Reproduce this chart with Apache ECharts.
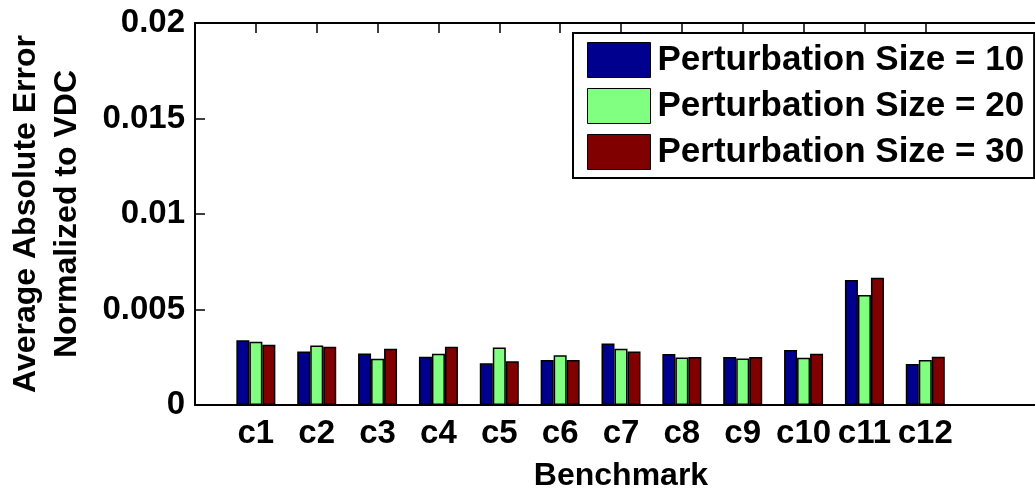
<!DOCTYPE html>
<html>
<head>
<meta charset="utf-8">
<script src="https://cdn.jsdelivr.net/npm/echarts@6/dist/echarts.min.js"></script>
<style>
html,body{margin:0;padding:0;background:#fff;overflow:hidden;width:1035px;height:491px;}
#chart{width:1060px;height:491px;}
</style>
</head>
<body>
<div id="chart"></div>
<script>
const categories = ['c1','c2','c3','c4','c5','c6','c7','c8','c9','c10','c11','c12'];
const seriesNames = ['Perturbation Size = 10','Perturbation Size = 20','Perturbation Size = 30'];
const size10 = [0.00339,0.00280,0.00270,0.00253,0.00218,0.00236,0.00322,0.00267,0.00251,0.00288,0.00655,0.00215];
const size20 = [0.00331,0.00311,0.00242,0.00268,0.00301,0.00260,0.00294,0.00249,0.00244,0.00248,0.00576,0.00236];
const size30 = [0.00315,0.00305,0.00294,0.00305,0.00229,0.00236,0.00280,0.00251,0.00251,0.00268,0.00666,0.00253];
const yTicks = [0, 0.005, 0.01, 0.015, 0.02];
const colors = ['#00008F','#80FF80','#800000'];

// axis runs from 0 to 14 (MATLAB-style xlim), categories at 1..12
const axisData = [''].concat(categories, ['', '']);
const pad = arr => [null].concat(arr, [null, null]);
const values = [size10, size20, size30];

const font = 'Liberation Sans, Arial, Helvetica, sans-serif';
const chart = echarts.init(document.getElementById('chart'), null, {renderer: 'canvas', width: 1060, height: 491});
const isCat = (i, v) => v !== '';

chart.setOption({
  animation: false,
  backgroundColor: '#fff',
  textStyle: {fontFamily: font},
  grid: {left: 195, top: 23, bottom: 86, right: 13, containLabel: false, outerBoundsMode: 'none'},
  legend: {
    data: seriesNames,
    orient: 'vertical',
    left: 573, top: 33,
    padding: [9, 10, 8, 14],
    icon: 'rect',
    itemWidth: 63, itemHeight: 35, itemGap: 10,
    backgroundColor: '#fff',
    borderColor: '#000', borderWidth: 2,
    itemStyle: {borderColor: '#000', borderWidth: 1},
    textStyle: {fontFamily: font, fontWeight: 'bold', fontSize: 35, color: '#000', padding: [0,0,0,2]}
  },
  xAxis: [{
    type: 'category',
    data: axisData,
    boundaryGap: false,
    position: 'bottom',
    name: 'Benchmark',
    nameLocation: 'middle',
    nameGap: 55,
    nameTextStyle: {fontFamily: font, fontWeight: 'bold', fontSize: 32, color: '#000'},
    axisLine: {lineStyle: {color: '#000', width: 2}},
    axisTick: {inside: true, length: 10, interval: isCat, lineStyle: {color: '#000', width: 1.5}},
    axisLabel: {interval: 0, margin: 12, fontFamily: font, fontWeight: 'bold', fontSize: 33, color: '#000'},
    splitLine: {show: false}
  }, {
    type: 'category',
    data: axisData,
    boundaryGap: false,
    position: 'top',
    axisLine: {lineStyle: {color: '#000', width: 2}},
    axisTick: {inside: true, length: 10, interval: isCat, lineStyle: {color: '#000', width: 1.5}},
    axisLabel: {show: false},
    splitLine: {show: false}
  }],
  yAxis: [{
    type: 'value',
    min: yTicks[0], max: yTicks[yTicks.length - 1], interval: yTicks[1] - yTicks[0],
    position: 'left',
    name: 'Average Absolute Error\nNormalized to VDC',
    nameLocation: 'middle',
    nameGap: 107,
    nameTextStyle: {fontFamily: font, fontWeight: 'bold', fontSize: 32, color: '#000', lineHeight: 41},
    axisLine: {show: true, lineStyle: {color: '#000', width: 2}},
    axisTick: {show: true, inside: true, length: 10, lineStyle: {color: '#000', width: 1.5}},
    axisLabel: {margin: 10, fontFamily: font, fontWeight: 'bold', fontSize: 33, color: '#000'},
    splitLine: {show: false}
  }],
  series: seriesNames.map((name, k) => ({
    name: name,
    type: 'bar',
    xAxisIndex: 0,
    yAxisIndex: 0,
    data: pad(values[k]),
    barWidth: 13,
    barGap: '0%',
    itemStyle: {color: colors[k], borderColor: '#000', borderWidth: 1.5}
  }))
});
</script>
</body>
</html>
